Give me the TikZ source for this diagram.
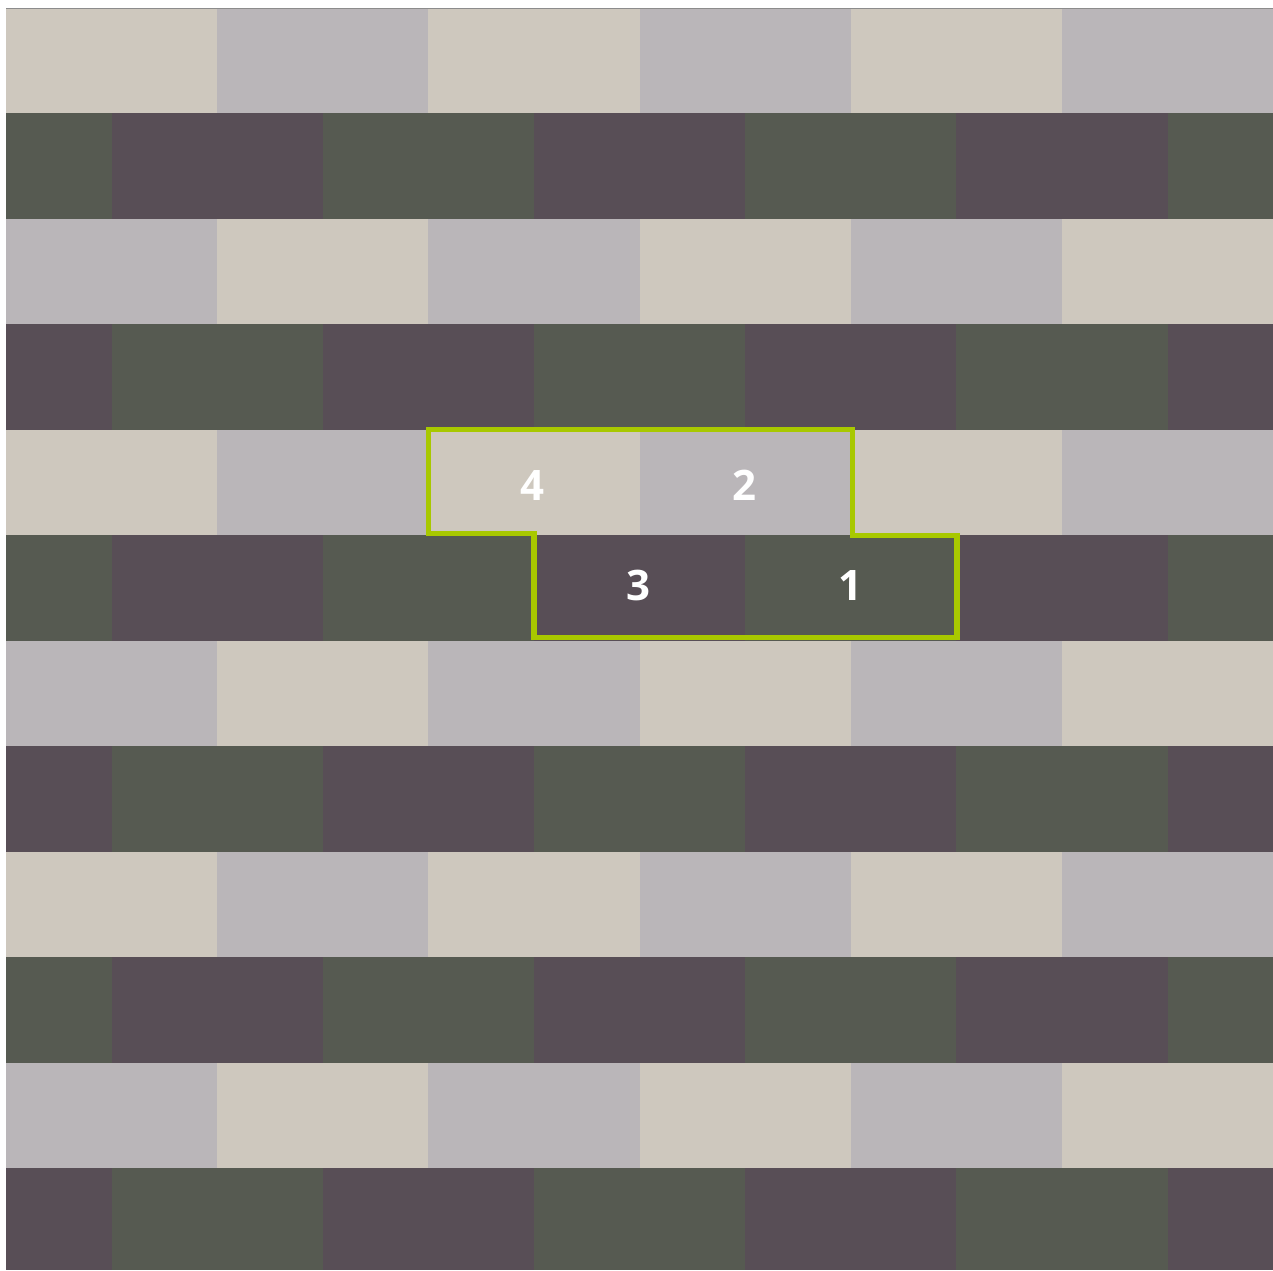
\documentclass[tikz,border=0pt]{standalone}
\usepackage{fontspec}
\setmainfont{Open Sans}
\definecolor{tile0}{RGB}{206,200,190}
\definecolor{tile1}{RGB}{186,182,185}
\definecolor{tile2}{RGB}{86,90,81}
\definecolor{tile3}{RGB}{88,78,86}
\definecolor{limeline}{RGB}{168,200,0}
\tikzset{
  tilebox/.style={line width=0pt},
  outline/.style={draw=limeline, line width=5.5pt, line join=miter},
  numlabel/.style={text=white, font=\fontsize{42}{42}\selectfont\bfseries, inner sep=0pt}
}
\begin{document}
\begin{tikzpicture}[x=1pt,y=-1pt]
\useasboundingbox (0,0) rectangle (1273,1270);
\fill[white] (0,0) rectangle (1273,1270);
\begin{scope}
\clip (6,8) rectangle (1273,1269.5);
\foreach \r in {0,...,11}{
  \pgfmathtruncatemacro\m{mod(\r,4)}
  \pgfmathsetmacro\yt{8+\r*105.45}
  \pgfmathsetmacro\yb{8+(\r+1)*105.45+0.6}
  \foreach \k in {0,...,6}{
    \pgfmathsetmacro\off{(mod(\r,2)==1)?-0.5:0}
    \pgfmathsetmacro\xl{6+(\k+\off)*211.2}
    \pgfmathsetmacro\xr{\xl+211.2+0.6}
    \pgfmathtruncatemacro\c{mod(\k+(\m>=2?1:0),2)+2*mod(\r,2)}
    \fill[tile\c] (\xl,\yt) rectangle (\xr,\yb);
  }
}
\end{scope}
\draw[black!45, line width=1pt] (6,8.5) -- (1273,8.5);
\draw[outline] (428.5,429.5) -- (852.5,429.5) -- (852.5,535.5) -- (957,535.5)
  -- (957,637.5) -- (534,637.5) -- (534,533.5) -- (428.5,533.5) -- cycle;
\node[numlabel] (n4) at (532,485) {4};
\node[numlabel] (n2) at (744,485) {2};
\node[numlabel] (n3) at (638,585) {3};
\node[numlabel] (n1) at (850,585) {1};
\end{tikzpicture}
\end{document}
